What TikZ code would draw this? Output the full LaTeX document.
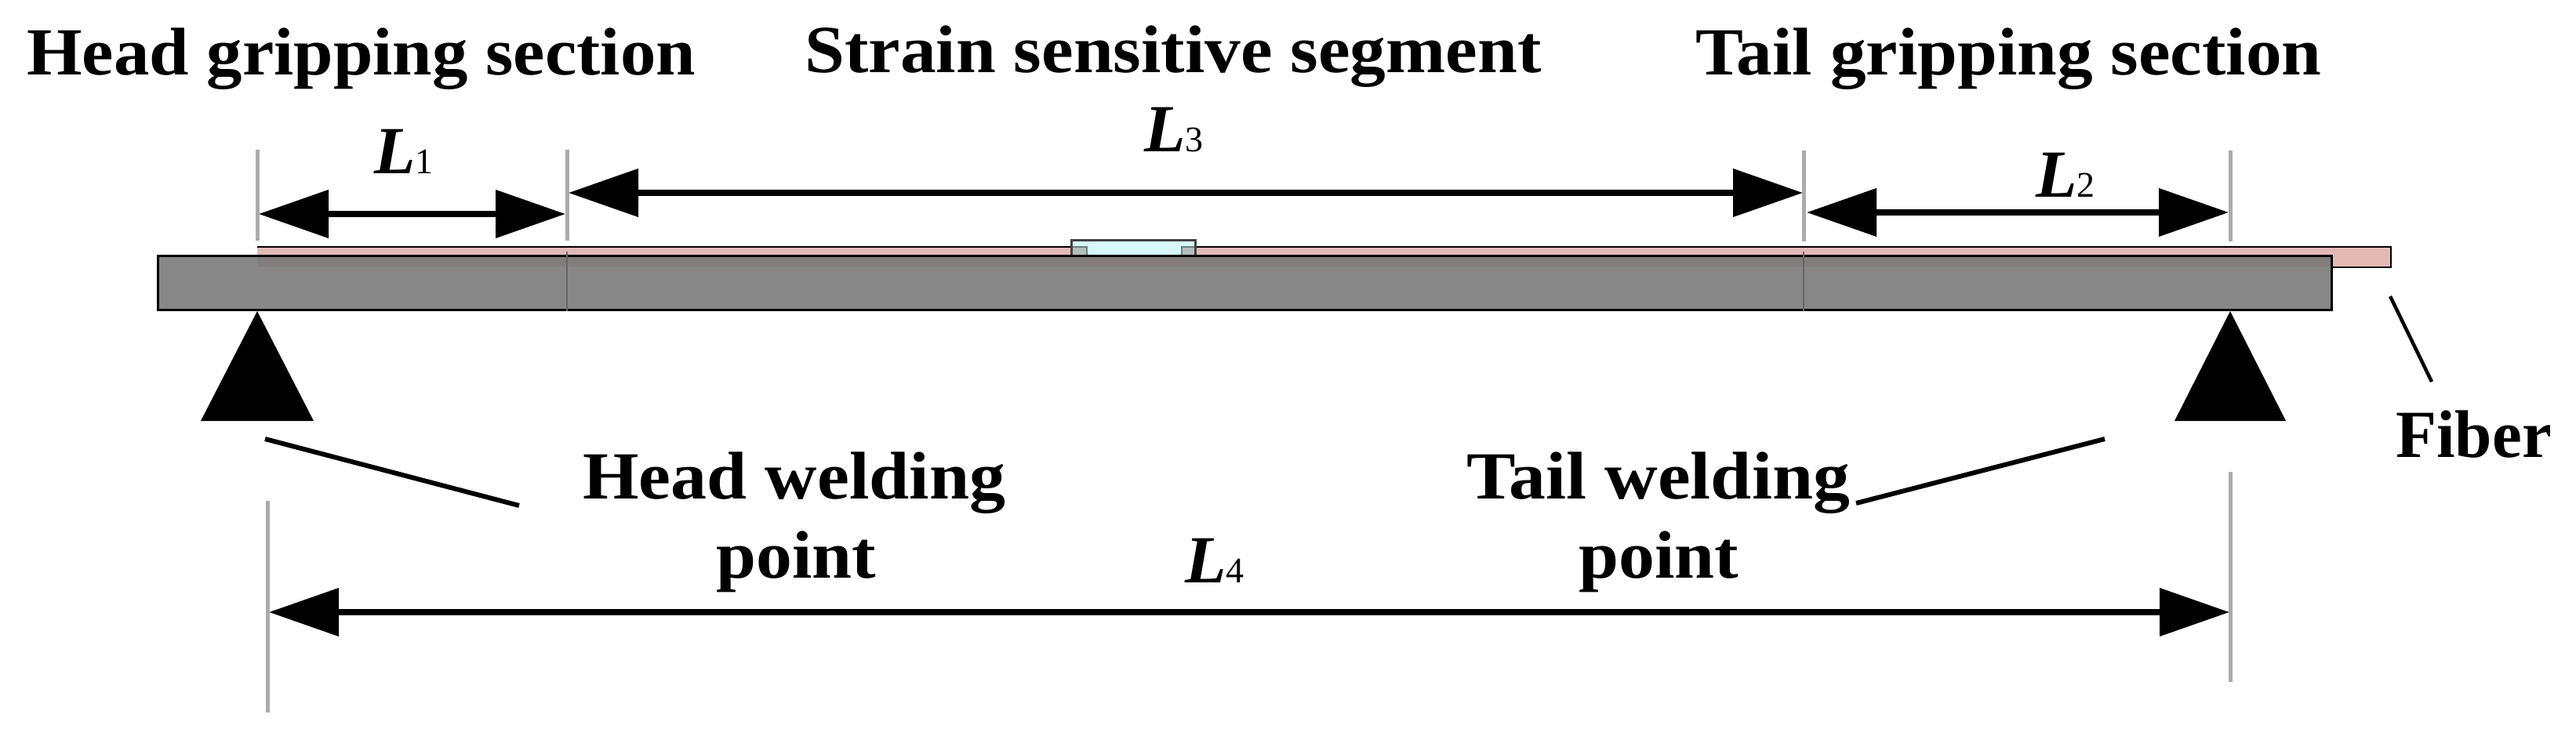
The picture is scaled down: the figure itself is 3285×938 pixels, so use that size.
\documentclass[tikz,border=0pt]{standalone}
\usepackage{fontspec}
\usepackage{graphicx}
\setmainfont{Liberation Serif}
\usetikzlibrary{arrows.meta}
\definecolor{beamc}{HTML}{878787}
\definecolor{overc}{HTML}{827D7C}
\definecolor{pinkc}{HTML}{E3B9B6}
\definecolor{cyanc}{HTML}{D6F8FB}
\definecolor{tickc}{HTML}{ABABAB}
\definecolor{padc}{HTML}{B4BEBE}
\definecolor{padl}{HTML}{6F7C7C}
\tikzset{
  x=1pt,y=-1pt,
  lab/.style={inner sep=0pt,anchor=base west,font=\fontsize{86}{86}\selectfont\bfseries},
  tick/.style={draw=tickc,line width=5pt},
  dim/.style={line width=7.5pt,{Triangle[length=89pt,width=60pt]}-{Triangle[length=89pt,width=60pt]}},
  leader/.style={line width=6pt},
  shell/.style={line width=3pt,draw=black},
  support/.style={fill=black},
}
\newcommand{\Lsub}[1]{\textit{L}{\fontsize{46}{46}\selectfont\mdseries #1}}
\newcommand{\Tx}[2]{\scalebox{#1}[1]{#2}}
\begin{document}
\begin{tikzpicture}
\useasboundingbox (0,0) rectangle (3285,938);
% fibre
\fill[pinkc] (328,315) rectangle (3049,341);
\draw[black,line width=2.5pt] (328,315) -- (3049,315) -- (3049,341) -- (2973,341);
% sensor
\fill[cyanc] (1366,306) rectangle (1524,326);
\fill[padc] (1366,315) rectangle (1386,326) (1507,315) rectangle (1524,326);
\draw[line width=2pt,draw=padl] (1386,326) |- (1366,315) (1507,326) |- (1524,315);
\draw[line width=3pt,draw=black!75] (1366,326) |- (1524,306) -- (1524,326);
% beam
\fill[beamc] (201,326) rectangle (2973,395);
\fill[overc] (328,326) rectangle (2973,340);
\draw[shell] (201,326) rectangle (2973,395);
\draw[line width=2.5pt,draw=black!60] (723,321) -- (723,397) (2300,321) -- (2300,397);
% ticks
\coordinate (t1a) at (328,191); \coordinate (t1b) at (328,307);
\coordinate (t2a) at (723,191); \coordinate (t2b) at (723,307);
\coordinate (t3a) at (2300,192); \coordinate (t3b) at (2300,308);
\coordinate (t4a) at (2844,192); \coordinate (t4b) at (2844,308);
\coordinate (t5a) at (341,639); \coordinate (t5b) at (341,909);
\coordinate (t6a) at (2844,602); \coordinate (t6b) at (2844,870);
\foreach \a/\b in {t1a/t1b,t2a/t2b,t3a/t3b,t4a/t4b,t5a/t5b,t6a/t6b} \draw[tick] (\a) -- (\b);
% dimension ends
\coordinate (d1l) at (330,273); \coordinate (d1r) at (721,273);
\coordinate (d3l) at (725,246); \coordinate (d3r) at (2299,246);
\coordinate (d2l) at (2304,271); \coordinate (d2r) at (2842,271);
\coordinate (d4l) at (343,781); \coordinate (d4r) at (2843,781);
\draw[dim] (d1l) -- (d1r);
\draw[dim] (d3l) -- (d3r);
\draw[dim] (d2l) -- (d2r);
\draw[dim] (d4l) -- (d4r);
% supports
\fill[support] (328,397) -- (400,537) -- (256,537) -- cycle;
\fill[support] (2844,397) -- (2915,537) -- (2773,537) -- cycle;
% leaders
\coordinate (h1) at (338,560); \coordinate (h2) at (662,645);
\coordinate (w1) at (2684,560); \coordinate (w2) at (2367,642);
\coordinate (f1) at (3048,378); \coordinate (f2) at (3101,487);
\draw[leader] (h1) -- (h2);
\draw[leader] (w1) -- (w2);
\draw[leader,line width=4.5pt] (f1) -- (f2);
% labels
\node[lab] (n1) at (34,95) {\Tx{1.056}{Head gripping section}};
\node[lab] (n2) at (1026,92) {\Tx{1.063}{Strain sensitive segment}};
\node[lab] (n3) at (2162,95) {\Tx{1.062}{Tail gripping section}};
\node[lab] (n4) at (743,636) {\Tx{1.07}{Head welding}};
\node[lab] (n5) at (913,737) {\Tx{1.066}{point}};
\node[lab] (n6) at (1870,636) {\Tx{1.09}{Tail welding}};
\node[lab] (n7) at (2013,737) {\Tx{1.066}{point}};
\node[lab] (n8) at (3055,583) {\Tx{0.99}{Fiber}};
\node[lab] (l1) at (477,221) {\Lsub{1}};
\node[lab] (l3) at (1459,193) {\Lsub{3}};
\node[lab] (l2) at (2596,251) {\Lsub{2}};
\node[lab] (l4) at (1511,743) {\Lsub{4}};
\end{tikzpicture}
\end{document}
